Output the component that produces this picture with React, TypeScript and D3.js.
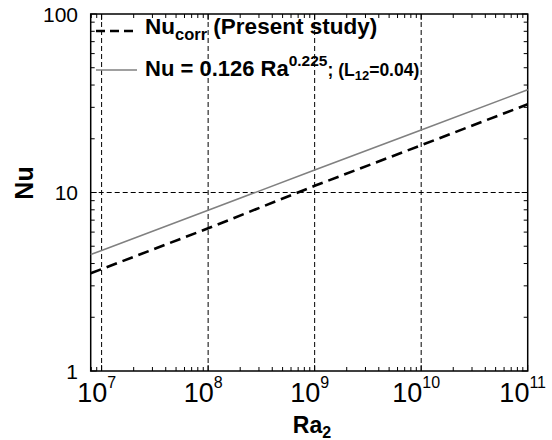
import React, { useEffect, useRef } from 'react'
import * as d3 from 'd3'

const raValues = [7.9e6, 1e7, 1e8, 1e9, 1e10, 1e11]
// Nu_corr (present study), dashed black
const nuCorr = [3.53, 3.72, 6.3, 10.9, 18.4, 31.2]
// Nu = 0.126 Ra^0.225, grey
const nuRef = [4.5, 4.73, 7.95, 13.35, 22.4, 37.6]

const xGridTicks = [1e7, 1e8, 1e9, 1e10]
const xLabelTicks = [1e7, 1e8, 1e9, 1e10, 1e11]
const xExponents = ['7', '8', '9', '10', '11']
const yGridTicks = [10]
const yLabelTicks = [1, 10, 100]
const yLabels = ['1', '10', '100']

export default function App() {
  const ref = useRef<SVGSVGElement>(null)

  useEffect(() => {
    const width = 552
    const height = 440
    const left = 90.7, right = 527.7, top = 14, bottom = 371

    const svg = d3.select(ref.current)
    svg.selectAll('*').remove()
    svg.attr('width', width).attr('height', height)
      .style('font-family', '"Liberation Sans", Arial, sans-serif')

    const x = d3.scaleLog().domain([7.9e6, 1e11]).range([left, right])
    const y = d3.scaleLog().domain([1, 100]).range([bottom, top])

    // grid
    svg.selectAll('line.gx').data(xGridTicks).enter().append('line')
      .attr('x1', d => x(d)).attr('x2', d => x(d))
      .attr('y1', top).attr('y2', bottom)
      .attr('stroke', '#000').attr('stroke-width', 1)
      .attr('stroke-dasharray', '5,3')
    svg.selectAll('line.gy').data(yGridTicks).enter().append('line')
      .attr('x1', left).attr('x2', right)
      .attr('y1', d => y(d)).attr('y2', d => y(d))
      .attr('stroke', '#000').attr('stroke-width', 1)
      .attr('stroke-dasharray', '5,3')

    // minor ticks
    const xMinor: number[] = []
    for (let e = 6; e < 11; e++) for (let m = 1; m < 10; m++) {
      const v = m * Math.pow(10, e)
      if (v >= 7.9e6 && v <= 1e11) xMinor.push(v)
    }
    xMinor.push(1e11)
    const yMinor: number[] = []
    for (let e = 0; e < 2; e++) for (let m = 1; m < 10; m++) yMinor.push(m * Math.pow(10, e))
    yMinor.push(100)

    const isMajor = (v: number) => Math.abs(Math.log10(v) - Math.round(Math.log10(v))) < 1e-6
    const ticks = svg.append('g').attr('stroke', '#000').attr('stroke-width', 1)
    xMinor.forEach(v => {
      const len = isMajor(v) ? 6 : 4
      ticks.append('line').attr('x1', x(v)).attr('x2', x(v)).attr('y1', bottom).attr('y2', bottom - len)
      ticks.append('line').attr('x1', x(v)).attr('x2', x(v)).attr('y1', top).attr('y2', top + len)
    })
    yMinor.forEach(v => {
      const len = isMajor(v) ? 6 : 4
      ticks.append('line').attr('x1', left).attr('x2', left + len).attr('y1', y(v)).attr('y2', y(v))
      ticks.append('line').attr('x1', right).attr('x2', right - len).attr('y1', y(v)).attr('y2', y(v))
    })

    // frame
    svg.append('rect')
      .attr('x', left).attr('y', top)
      .attr('width', right - left).attr('height', bottom - top)
      .attr('fill', 'none').attr('stroke', '#000').attr('stroke-width', 1.5)

    // curves
    const line = (vals: number[]) => d3.line<number>()
      .x((_, i) => x(raValues[i]))
      .y(d => y(d))(vals)

    svg.append('path').attr('d', line(nuRef))
      .attr('fill', 'none').attr('stroke', '#808080').attr('stroke-width', 1.6)
    svg.append('path').attr('d', line(nuCorr))
      .attr('fill', 'none').attr('stroke', '#000').attr('stroke-width', 2.6)
      .attr('stroke-dasharray', '11,6')

    // y tick labels
    svg.selectAll('text.yl').data(yLabelTicks).enter().append('text')
      .attr('x', 78).attr('y', d => y(d))
      .attr('dy', '0.36em')
      .attr('text-anchor', 'end')
      .attr('font-size', 21)
      .text((_, i) => yLabels[i])

    // x tick labels with superscripts
    xLabelTicks.forEach((v, i) => {
      const t = svg.append('text')
        .attr('x', x(v) - 5).attr('y', 402)
        .attr('text-anchor', 'middle')
        .attr('font-size', 27)
      t.append('tspan').text('10')
      t.append('tspan').attr('font-size', 16).attr('dy', -14).text(xExponents[i])
    })

    // axis titles
    const xt = svg.append('text')
      .attr('x', 312).attr('y', 433)
      .attr('text-anchor', 'middle')
      .attr('font-size', 23).attr('font-weight', 'bold')
    xt.append('tspan').text('Ra')
    xt.append('tspan').attr('font-size', 16).attr('dy', 5).text('2')

    svg.append('text')
      .attr('transform', 'translate(33,183) rotate(-90)')
      .attr('text-anchor', 'middle')
      .attr('font-size', 25).attr('font-weight', 'bold')
      .text('Nu')

    // legend
    svg.append('line')
      .attr('x1', 96).attr('x2', 138).attr('y1', 31).attr('y2', 31)
      .attr('stroke', '#000').attr('stroke-width', 2.6).attr('stroke-dasharray', '9,5')
    svg.append('line')
      .attr('x1', 96).attr('x2', 137).attr('y1', 70).attr('y2', 70)
      .attr('stroke', '#808080').attr('stroke-width', 1.6)

    const l1 = svg.append('text')
      .attr('x', 145).attr('y', 34)
      .attr('font-size', 22.5).attr('font-weight', 'bold')
    l1.append('tspan').text('Nu')
    l1.append('tspan').attr('font-size', 16.5).attr('dy', 6).text('corr')
    l1.append('tspan').attr('dy', -6).text(' (Present study)')

    const l2 = svg.append('text')
      .attr('x', 145).attr('y', 76)
      .attr('font-size', 22).attr('font-weight', 'bold')
    l2.append('tspan').text('Nu = 0.126 Ra')
    l2.append('tspan').attr('font-size', 15.5).attr('dy', -10).text('0.225')
    l2.append('tspan').attr('font-size', 17.5).attr('dy', 10).text('; (L')
    l2.append('tspan').attr('font-size', 13).attr('dy', 4).text('12')
    l2.append('tspan').attr('font-size', 17.5).attr('dy', -4).text('=0.04)')
  }, [])

  return <svg ref={ref} style={{ position: 'absolute', left: 0, top: 0 }} />
}
